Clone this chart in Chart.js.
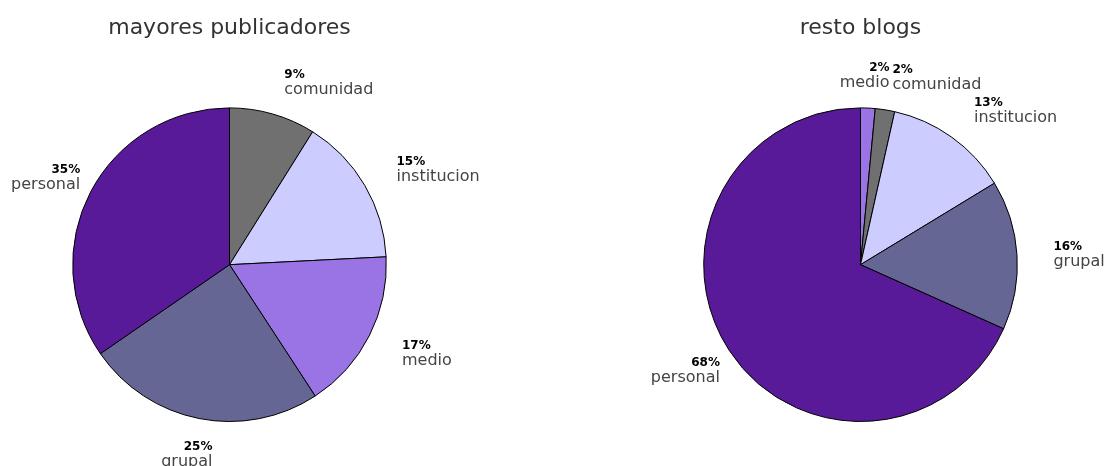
<!DOCTYPE html>
<html>
<head>
<meta charset="utf-8">
<script src="https://cdn.jsdelivr.net/npm/chart.js@4/dist/chart.umd.min.js"></script>
<style>
  html, body { margin: 0; padding: 0; background: #fff; }
  body { width: 1108px; height: 466px; position: relative; overflow: hidden; }
  .wrap { position: absolute; top: 0; height: 466px; }
  #wrapMayores { left: 0; width: 613px; }
  #wrapResto { left: 613px; width: 495px; }
</style>
</head>
<body>
<div class="wrap" id="wrapMayores"><canvas id="pieMayores"></canvas></div>
<div class="wrap" id="wrapResto"><canvas id="pieResto"></canvas></div>
<script>
// datos
const tituloMayores = 'mayores publicadores';
const categoriasMayores = ['comunidad', 'institucion', 'medio', 'grupal', 'personal'];
const valoresMayores = [8.9, 15.3, 16.6, 24.6, 34.6];
const porcentajesMayores = ['9%', '15%', '17%', '25%', '35%'];

const tituloResto = 'resto blogs';
const categoriasResto = ['medio', 'comunidad', 'institucion', 'grupal', 'personal'];
const valoresResto = [1.5, 2.0, 12.8, 15.4, 68.3];
const porcentajesResto = ['2%', '2%', '13%', '16%', '68%'];

// colores por categoria
const colores = {
  comunidad: '#707070',
  institucion: '#ccccff',
  medio: '#9a74e5',
  grupal: '#666695',
  personal: '#581a99'
};

// etiquetas fuera de la tarta: porcentaje arriba, nombre abajo
const etiquetasPlugin = {
  id: 'etiquetas',
  afterDraw(chart, args, opts) {
    const ctx = chart.ctx;
    const meta = chart.getDatasetMeta(0);
    ctx.save();
    meta.data.forEach((arc, i) => {
      const p = arc.getProps(['x', 'y', 'startAngle', 'endAngle', 'outerRadius'], true);
      const mid = (p.startAngle + p.endAngle) / 2;
      const r = p.outerRadius * 1.22;
      let x = p.x + Math.cos(mid) * r;
      const y = p.y + Math.sin(mid) * r + 1;
      let align;
      if (Math.cos(mid) > 0.1) {
        align = 'left';
        x += 2;
      } else {
        align = 'right';
        x += 20;
      }
      ctx.textAlign = align;
      ctx.textBaseline = 'middle';
      ctx.fillStyle = '#000';
      ctx.font = 'bold 12px "DejaVu Sans"';
      ctx.fillText(opts.porcentajes[i], x, y - 7);
      ctx.fillStyle = '#444';
      ctx.font = '16px "DejaVu Sans"';
      ctx.fillText(opts.nombres[i], x, y + 8);
    });
    ctx.restore();
  }
};

function crearTarta(id, titulo, categorias, valores, porcentajes, padDerecha) {
  const canvas = document.getElementById(id);
  new Chart(canvas.getContext('2d'), {
    type: 'pie',
    data: {
      labels: categorias,
      datasets: [{
        data: valores,
        backgroundColor: categorias.map(c => colores[c]),
        borderColor: '#000',
        borderWidth: 1
      }]
    },
    options: {
      responsive: true,
      maintainAspectRatio: false,
      animation: false,
      layout: { padding: { top: 0, bottom: 44, left: 0, right: padDerecha } },
      plugins: {
        legend: { display: false },
        tooltip: { enabled: false },
        title: {
          display: true,
          text: titulo,
          color: '#333',
          font: { family: 'DejaVu Sans', size: 22, weight: 'normal' },
          padding: { top: 15, bottom: 66 }
        },
        etiquetas: { nombres: categorias, porcentajes: porcentajes }
      }
    },
    plugins: [etiquetasPlugin]
  });
}

crearTarta('pieMayores', tituloMayores, categoriasMayores, valoresMayores, porcentajesMayores, 154);
crearTarta('pieResto', tituloResto, categoriasResto, valoresResto, porcentajesResto, 0);
</script>
</body>
</html>
